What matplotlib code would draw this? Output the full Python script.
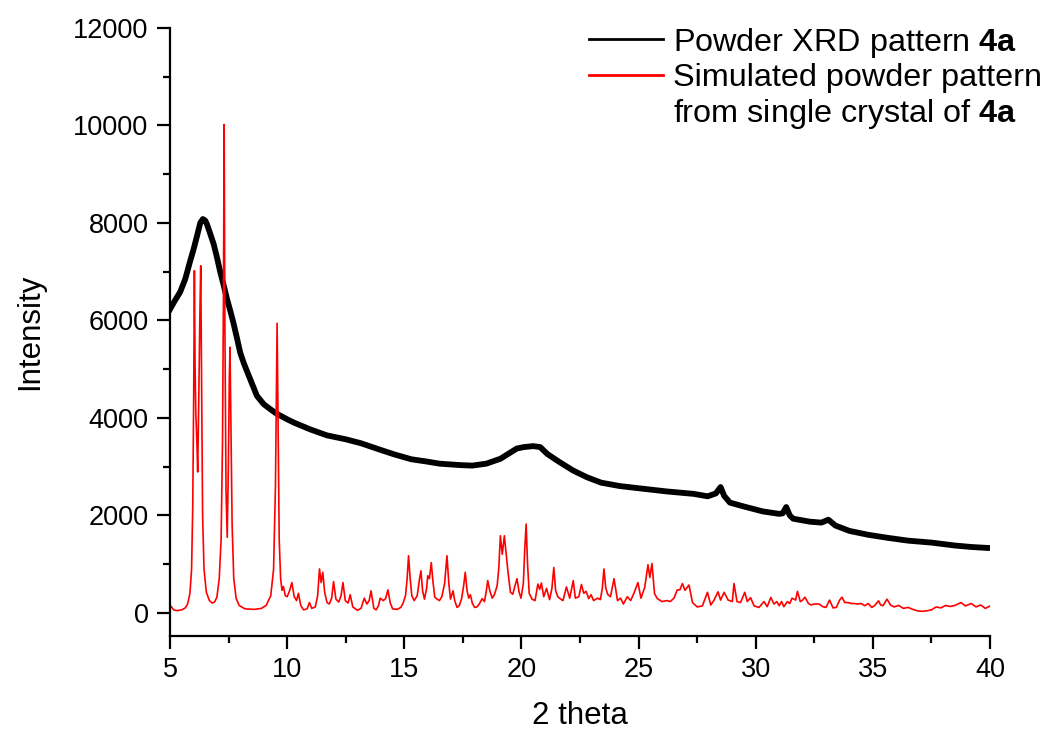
import matplotlib
matplotlib.use("Agg")
from matplotlib import pyplot as plt
from matplotlib.lines import Line2D
from matplotlib.ticker import MultipleLocator

plt.rcParams['font.family'] = ['Liberation Sans', 'DejaVu Sans']
plt.rcParams['mathtext.fontset'] = 'custom'
plt.rcParams['mathtext.rm'] = 'Liberation Sans'
plt.rcParams['mathtext.bf'] = 'Liberation Sans:bold'

exp_x = [5.0, 5.2, 5.43, 5.65, 5.86, 6.0, 6.14, 6.29, 6.4, 6.5, 6.57, 6.7, 6.86, 7.0,
         7.14, 7.3, 7.43, 7.57, 7.71, 7.85, 8.0, 8.15, 8.29, 8.5, 8.71, 9.0, 9.3, 9.57,
         10.0, 10.3, 11.0, 11.7, 12.5, 13.14, 14.0, 14.57, 15.3, 16.0, 16.5, 17.4, 17.9,
         18.5, 19.1, 19.5, 19.8, 20.1, 20.5, 20.8, 21.1, 21.6, 22.2, 22.8, 23.4, 24.2,
         25.1, 26.2, 27.35, 27.95, 28.3, 28.5, 28.65, 28.9, 29.5, 30.3, 31.0, 31.15, 31.3,
         31.45, 31.6, 32.3, 32.8, 33.1, 33.4, 34.0, 34.8, 35.6, 36.5, 37.5, 38.5, 39.2,
         39.9, 40.0]
exp_y = [6230, 6400, 6580, 6850, 7220, 7450, 7710, 8000, 8080, 8050, 7980, 7800, 7570, 7300,
         7000, 6700, 6440, 6200, 5940, 5650, 5330, 5120, 4950, 4700, 4450, 4280, 4170, 4080,
         3970, 3900, 3760, 3640, 3560, 3480, 3340, 3250, 3150, 3100, 3060, 3030, 3020,
         3060, 3160, 3280, 3370, 3400, 3420, 3400, 3260, 3100, 2920, 2780, 2670, 2600,
         2550, 2490, 2440, 2390, 2450, 2580, 2400, 2260, 2180, 2080, 2030, 2040, 2170,
         2000, 1930, 1870, 1850, 1910, 1790, 1680, 1600, 1540, 1480, 1440, 1380, 1350,
         1330, 1330]

# simulated pattern from single crystal
sim_x = [5.0, 5.05, 5.15, 5.3, 5.5, 5.65, 5.75, 5.85, 5.92, 5.97, 6.01, 6.04, 6.07, 6.1,
         6.14, 6.18, 6.23, 6.27, 6.31, 6.35, 6.39, 6.45, 6.55, 6.68, 6.8, 6.9, 7.0, 7.1,
         7.18, 7.24, 7.28, 7.31, 7.34, 7.39, 7.44, 7.49, 7.53, 7.56, 7.6, 7.65, 7.72, 7.82,
         7.95, 8.2, 8.6, 8.9, 9.1, 9.3, 9.42, 9.5, 9.54, 9.57, 9.61, 9.66, 9.72,
         9.78, 9.84, 9.92, 10.0, 10.1, 10.2, 10.3, 10.4, 10.48, 10.58, 10.7, 10.85, 10.95,
         11.05, 11.2, 11.3, 11.38, 11.45, 11.52, 11.6, 11.7, 11.8, 11.9, 11.98, 12.08, 12.2,
         12.3, 12.38, 12.48, 12.6, 12.69, 12.8, 13.0, 13.15, 13.29, 13.4, 13.5, 13.58, 13.7,
         13.8, 13.9, 13.97, 14.1, 14.2, 14.3, 14.4, 14.5, 14.7, 14.85, 14.95, 15.05, 15.12,
         15.18, 15.25, 15.32, 15.42, 15.55, 15.65, 15.71, 15.78, 15.86, 15.95, 16.0, 16.07,
         16.15, 16.22, 16.3, 16.4, 16.5, 16.6, 16.72, 16.82, 16.9, 16.97, 17.08, 17.15,
         17.25, 17.35, 17.45, 17.53, 17.6, 17.68, 17.75, 17.82, 17.9, 18.0, 18.1, 18.2,
         18.32, 18.42, 18.5, 18.56, 18.65, 18.75, 18.85, 18.96, 19.03, 19.1, 19.18, 19.27,
         19.35, 19.42, 19.53, 19.63, 19.72, 19.81, 19.9, 19.98, 20.08, 20.14, 20.2, 20.26,
         20.33, 20.45, 20.58, 20.7, 20.78, 20.85, 20.95, 21.07, 21.2, 21.3, 21.38, 21.46,
         21.55, 21.62, 21.77, 21.92, 22.06, 22.21, 22.3, 22.45, 22.56, 22.66, 22.76, 22.87,
         22.97, 23.08, 23.25, 23.37, 23.45, 23.52, 23.6, 23.69, 23.8, 23.95, 24.1, 24.23,
         24.35, 24.52, 24.66, 24.8, 24.97, 25.1, 25.26, 25.4, 25.48, 25.57, 25.68, 25.8,
         26.0, 26.2, 26.35, 26.51, 26.65, 26.76, 26.87, 26.98, 27.15, 27.3, 27.5, 27.72,
         27.94, 28.08, 28.22, 28.39, 28.5, 28.65, 28.82, 29.0, 29.07, 29.2, 29.35, 29.53,
         29.64, 29.78, 29.93, 30.14, 30.35, 30.49, 30.64, 30.78, 30.9, 31.0, 31.1, 31.2,
         31.35, 31.45, 31.55, 31.7, 31.78, 31.9, 32.0, 32.1, 32.25, 32.36, 32.5, 32.7,
         32.86, 33.0, 33.15, 33.3, 33.44, 33.58, 33.68, 33.8, 33.94, 34.08, 34.2, 34.35,
         34.5, 34.65, 34.8, 34.95, 35.07, 35.24, 35.33, 35.43, 35.6, 35.75, 35.9, 36.1,
         36.3, 36.5, 36.7, 36.9, 37.1, 37.3, 37.5, 37.7, 37.9, 38.1, 38.3, 38.5, 38.76,
         38.95, 39.2, 39.4, 39.6, 39.8, 40.0]
sim_y = [110, 130, 60, 45, 60, 100, 180, 400, 900, 2200, 4500, 7020, 5000, 4100,
         3600, 2890, 4500, 6000, 7120, 4500, 2000, 900, 420, 250, 200, 220, 320, 700,
         1500, 3500, 6500, 10020, 6000, 2500, 1550, 3000, 4800, 5450, 3800, 1800, 700, 300,
         150, 80, 70, 90, 150, 350, 900, 2600, 4500, 5940, 4000, 1500, 700,
         460, 540, 350, 330, 450, 620, 330, 250, 400, 150, 60, 80, 210,
         90, 120, 350, 900, 620, 830, 420, 210, 180, 300, 640, 280, 220,
         350, 620, 250, 200, 370, 120, 50, 90, 300, 180, 250, 450, 90,
         60, 150, 300, 250, 290, 470, 200, 80, 70, 110, 200, 350, 700,
         1170, 700, 350, 250, 350, 700, 860, 450, 280, 500, 760, 700,
         1030, 650, 320, 280, 250, 330, 600, 1170, 600, 280, 450, 250,
         110, 150, 300, 550, 830, 450, 300, 370, 200, 110, 120, 180,
         290, 230, 450, 660, 450, 300, 380, 550, 900, 1580, 1200, 1580,
         1200, 860, 420, 380, 550, 700, 420, 300, 600, 1300, 1820, 1000,
         400, 280, 250, 590, 480, 610, 330, 500, 270, 500, 930, 450,
         330, 300, 250, 530, 300, 660, 300, 330, 580, 400, 440, 290,
         370, 250, 300, 270, 500, 900, 500, 370, 330, 700, 250, 300,
         180, 330, 250, 400, 620, 300, 520, 985, 725, 1010, 390, 290,
         230, 250, 230, 300, 470, 470, 600, 460, 570, 210, 120, 140,
         420, 160, 260, 430, 260, 420, 260, 230, 600, 230, 210, 420,
         230, 310, 140, 110, 230, 125, 315, 180, 230, 145, 230, 125,
         230, 190, 300, 260, 440, 230, 260, 320, 190, 160, 180, 180,
         125, 110, 260, 100, 110, 260, 320, 210, 210, 190, 190, 180,
         190, 145, 190, 110, 145, 245, 160, 145, 280, 160, 120, 150,
         90, 110, 70, 40, 30, 40, 60, 120, 100, 150, 130, 150, 210,
         140, 190, 120, 160, 90, 140]

fig = plt.figure(figsize=(10.47, 7.31), dpi=100)
ax = fig.add_axes([0.1624, 0.1304, 0.7832, 0.8313])

ax.plot(exp_x, exp_y, color="black", lw=4.2, solid_joinstyle="round")
ax.plot(sim_x, sim_y, color="red", lw=1.2)

ax.set_xlim(5, 40)
ax.set_ylim(-470, 12000)
ax.xaxis.set_major_locator(MultipleLocator(5))
ax.xaxis.set_minor_locator(MultipleLocator(2.5))
ax.yaxis.set_major_locator(MultipleLocator(2000))
ax.yaxis.set_minor_locator(MultipleLocator(1000))
for s in ["top", "right"]:
    ax.spines[s].set_visible(False)
for s in ["left", "bottom"]:
    ax.spines[s].set_linewidth(1.6)
ax.tick_params(which="major", direction="out", length=9.5, width=1.6, labelsize=19.5, pad=6)
ax.tick_params(which="minor", direction="out", length=5, width=1.6)

ax.set_xlabel("2 theta", fontsize=22.5, labelpad=13)
ax.set_ylabel("Intensity", fontsize=22.5, labelpad=20)

handles = [Line2D([], [], color="black", lw=2),
           Line2D([], [], color="red", lw=2),
           Line2D([], [], color="none")]
labels = [r"Powder XRD pattern $\bf{4a}$",
          "Simulated powder pattern",
          r"from single crystal of $\bf{4a}$"]
fig.legend(handles, labels, loc="upper left", bbox_to_anchor=(0.5625, 0.965),
           frameon=False, fontsize=23.3, handlelength=2.3, handletextpad=0.3,
           labelspacing=0.12, borderpad=0, borderaxespad=0)

fig.savefig("out.png", dpi=100)
